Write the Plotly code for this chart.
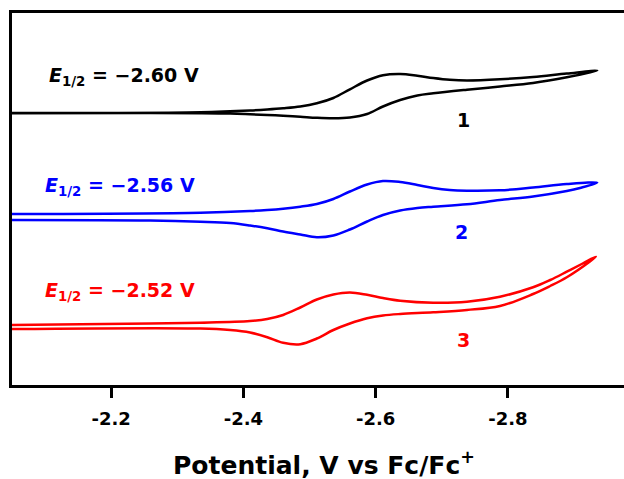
import plotly.graph_objects as go

# ---- data (potential in V vs Fc/Fc+, current in arbitrary offset units) ----
pot_1 = [-2.050, -2.183, -2.335, -2.410, -2.436, -2.460, -2.486, -2.511, -2.536, -2.561,
         -2.587, -2.611, -2.637, -2.663, -2.687, -2.712, -2.738, -2.788, -2.838, -2.889, -2.935,
         -2.889, -2.838, -2.788, -2.738, -2.687, -2.663, -2.637, -2.611, -2.587, -2.561,
         -2.536, -2.511, -2.486, -2.460, -2.436, -2.410, -2.380, -2.335, -2.259, -2.050]
cur_1 = [27.20, 27.20, 27.27, 27.45, 27.55, 27.67, 27.85, 28.17, 28.70, 29.57,
         30.45, 30.98, 31.10, 30.93, 30.70, 30.52, 30.45, 30.57, 30.80, 31.15, 31.43,
         30.77, 30.20, 29.85, 29.53, 29.17, 28.95, 28.50, 27.85, 27.10, 26.75,
         26.67, 26.72, 26.83, 26.93, 27.00, 27.07, 27.14, 27.18, 27.20, 27.17]

pot_2 = [-2.050, -2.335, -2.410, -2.436, -2.460, -2.486, -2.511, -2.536, -2.561, -2.587,
         -2.611, -2.637, -2.663, -2.687, -2.712, -2.738, -2.788, -2.838, -2.889, -2.935,
         -2.909, -2.889, -2.838, -2.788, -2.738, -2.687, -2.663, -2.637, -2.611, -2.587,
         -2.561, -2.536, -2.511, -2.486, -2.460, -2.436, -2.410, -2.380, -2.335, -2.259, -2.050]
cur_2 = [17.10, 17.23, 17.40, 17.50, 17.63, 17.83, 18.10, 18.60, 19.35, 20.05,
         20.40, 20.30, 20.00, 19.70, 19.50, 19.43, 19.47, 19.75, 20.10, 20.23,
         19.70, 19.40, 18.85, 18.50, 18.07, 17.83, 17.70, 17.45, 17.00, 16.35,
         15.55, 14.95, 14.77, 15.05, 15.35, 15.67, 15.95, 16.20, 16.33, 16.45, 16.50]

pot_3 = [-2.050, -2.259, -2.335, -2.410, -2.436, -2.460, -2.486, -2.511, -2.536, -2.561,
         -2.587, -2.611, -2.637, -2.687, -2.738, -2.788, -2.838, -2.864, -2.889, -2.913, -2.933,
         -2.924, -2.889, -2.864, -2.838, -2.788, -2.738, -2.687, -2.637, -2.611, -2.587,
         -2.561, -2.536, -2.511, -2.486, -2.460, -2.436, -2.410, -2.380, -2.335, -2.050]
cur_3 = [6.00, 6.15, 6.23, 6.40, 6.60, 7.00, 7.75, 8.55, 9.05, 9.25,
         9.02, 8.70, 8.43, 8.23, 8.33, 8.83, 9.77, 10.50, 11.33, 12.15, 12.83,
         12.35, 10.77, 9.90, 9.10, 7.90, 7.50, 7.27, 7.10, 6.95, 6.67,
         6.15, 5.50, 4.65, 4.08, 4.22, 4.78, 5.25, 5.50, 5.65, 5.60]

colors = ["#000000", "#0000ff", "#ff0000"]
e_half_labels = ["\u22122.60 V", "\u22122.56 V", "\u22122.52 V"]
compound_labels = ["1", "2", "3"]
tick_vals = [-2.2, -2.4, -2.6, -2.8]
tick_text = ["-2.2", "-2.4", "-2.6", "-2.8"]

fig = go.Figure()
for pot, cur, col in zip([pot_1, pot_2, pot_3], [cur_1, cur_2, cur_3], colors):
    fig.add_trace(go.Scatter(x=pot, y=cur, mode="lines",
                             line=dict(color=col, width=2.5, shape="spline", smoothing=1.0),
                             showlegend=False, hoverinfo="skip"))

FONT = "DejaVu Sans, Liberation Sans, Arial, sans-serif"

# E1/2 labels
e_pos = [(0.0572, 0.829), (0.0507, 0.533), (0.0507, 0.251)]
for (px, py), txt, col in zip(e_pos, e_half_labels, colors):
    fig.add_annotation(xref="paper", yref="paper", x=px, y=py, xanchor="left", yanchor="middle",
                       text="<b><i>E</i><sub>1/2</sub> = " + txt + "</b>", showarrow=False,
                       font=dict(family=FONT, size=19, color=col))

# compound numbers
n_pos = [(0.737, 0.712), (0.735, 0.412), (0.737, 0.121)]
for (px, py), txt, col in zip(n_pos, compound_labels, colors):
    fig.add_annotation(xref="paper", yref="paper", x=px, y=py, xanchor="center", yanchor="middle",
                       text="<b>" + txt + "</b>", showarrow=False,
                       font=dict(family=FONT, size=19, color=col))

# axis title
fig.add_annotation(xref="paper", yref="paper", x=0.509, y=-0.21, xanchor="center", yanchor="middle",
                   text="<b>Potential, V vs Fc/Fc<sup>+</sup></b>", showarrow=False,
                   font=dict(family=FONT, size=25, color="black"))

fig.update_layout(
    width=624, height=479,
    margin=dict(l=12, r=0, t=13, b=94),
    paper_bgcolor="white", plot_bgcolor="white",
    xaxis=dict(range=[-2.05, -2.9755], tickvals=tick_vals, ticktext=tick_text,
               ticks="outside", ticklen=10, tickwidth=2.5, tickcolor="black",
               showline=True, linecolor="black", linewidth=2.5, mirror=True,
               showgrid=False, zeroline=False, ticklabelstandoff=6,
               tickfont=dict(family=FONT, size=18, color="black", weight="bold")),
    yaxis=dict(range=[0, 37.2], showticklabels=False, ticks="",
               showline=True, linecolor="black", linewidth=2.5, mirror=False,
               showgrid=False, zeroline=False),
)

fig.write_html("out.html", config={"displayModeBar": False},
               post_script="document.body.style.margin='0px';")
